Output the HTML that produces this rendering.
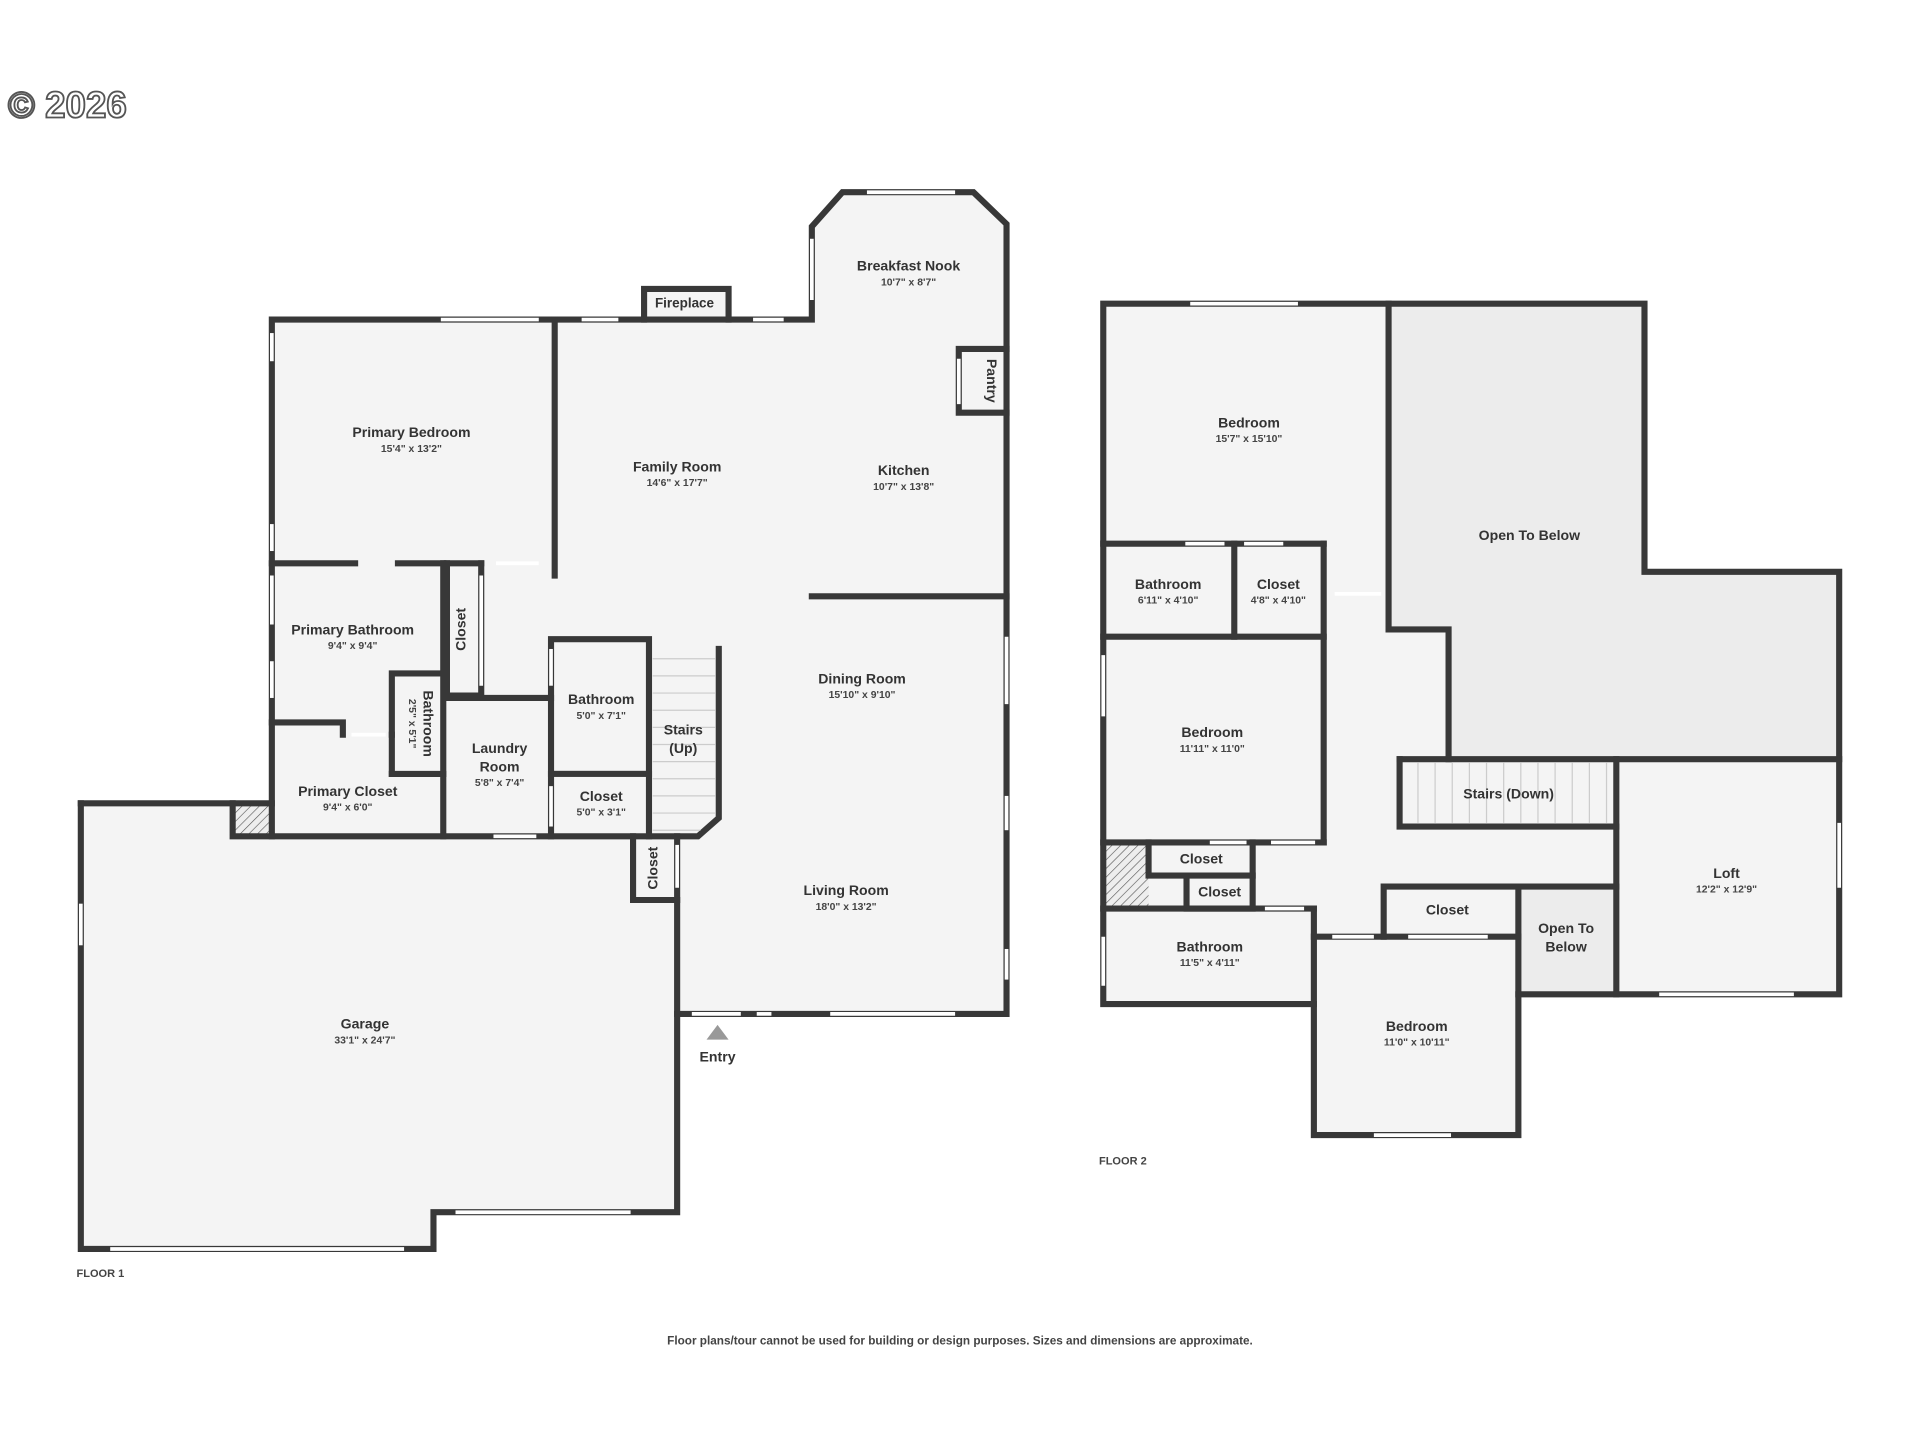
<!DOCTYPE html>
<html><head><meta charset="utf-8"><style>
html,body{margin:0;padding:0;background:#fff;}
svg{display:block}
text{font-family:"Liberation Sans",sans-serif;fill:#333;text-anchor:middle}
.n{font-size:11.5px;font-weight:bold}
.d{font-size:8.5px;font-weight:bold;fill:#444}
.w{stroke:#383838;stroke-width:5;fill:none;stroke-linecap:square}
.win{stroke:#fff;stroke-width:3}
.st{stroke:#ccc;stroke-width:1}
</style></head><body>
<svg width="1920" height="1440" viewBox="0 0 1568 1176" xmlns="http://www.w3.org/2000/svg">
<defs><pattern id="h" width="5" height="5" patternUnits="userSpaceOnUse" patternTransform="rotate(45)"><rect width="5" height="5" fill="#eee"/><line x1="0" y1="0" x2="0" y2="5" stroke="#555" stroke-width="1"/></pattern></defs>
<text x="55" y="96" style="font-size:30px;font-weight:bold;fill:#fff;stroke:#555;stroke-width:1.5">© 2026</text>

<!-- FLOOR 1 -->
<polygon points="66,656 222,656 222,261 663,261 663,185 688,157 795,157 822,183 822,828 553,828 553,990 354,990 354,1020 66,1020" fill="#f4f4f4"/>
<rect x="526" y="236" width="69" height="25" fill="#f4f4f4"/>
<rect x="190" y="656" width="32" height="27" fill="url(#h)"/>
<g class="w">
<polyline points="66,656 190,656 190,683 570,683 587,668 587,530"/>
<polyline points="66,656 66,1020 354,1020 354,990 553,990 553,683"/>
<polyline points="553,828 822,828 822,183 795,157 688,157 663,185 663,261 222,261 222,683"/>
<line x1="190" y1="656" x2="222" y2="656"/>
<polyline points="526,261 526,236 595,236 595,261"/>
<line x1="453" y1="261" x2="453" y2="470"/>
<line x1="222" y1="460" x2="290" y2="460"/><line x1="325" y1="460" x2="393" y2="460"/>
<line x1="362" y1="460" x2="362" y2="683"/>
<polyline points="365,460 365,568 393,568 393,460"/>
<line x1="365" y1="570" x2="450" y2="570"/>
<polyline points="222,590 280,590 280,600"/>
<polyline points="320,600 320,550 362,550"/><line x1="320" y1="632" x2="362" y2="632"/><line x1="320" y1="600" x2="320" y2="632"/>
<rect x="450" y="522" width="80" height="110"/><line x1="450" y1="632" x2="450" y2="683"/><line x1="530" y1="632" x2="530" y2="683"/>
<polyline points="517,683 517,735 553,735"/>
<line x1="663" y1="487" x2="822" y2="487"/>
<polyline points="822,285 783,285 783,337 822,337"/>
</g>
<g class="st"><line x1="533" y1="538" x2="584" y2="538"/><line x1="533" y1="552" x2="584" y2="552"/><line x1="533" y1="566" x2="584" y2="566"/><line x1="533" y1="580" x2="584" y2="580"/><line x1="533" y1="594" x2="584" y2="594"/><line x1="533" y1="608" x2="584" y2="608"/><line x1="533" y1="622" x2="584" y2="622"/><line x1="533" y1="636" x2="584" y2="636"/><line x1="533" y1="650" x2="584" y2="650"/><line x1="533" y1="664" x2="584" y2="664"/><line x1="533" y1="678" x2="572" y2="678"/></g>
<g class="win">
<line x1="360" y1="261" x2="440" y2="261"/><line x1="475" y1="261" x2="505" y2="261"/><line x1="615" y1="261" x2="640" y2="261"/>
<line x1="708" y1="157" x2="780" y2="157"/><line x1="663" y1="195" x2="663" y2="245"/>
<line x1="222" y1="272" x2="222" y2="295"/><line x1="222" y1="428" x2="222" y2="450"/><line x1="222" y1="470" x2="222" y2="510"/><line x1="222" y1="540" x2="222" y2="570"/>
<line x1="822" y1="520" x2="822" y2="575"/><line x1="822" y1="650" x2="822" y2="678"/><line x1="822" y1="775" x2="822" y2="800"/>
<line x1="565" y1="828" x2="605" y2="828"/><line x1="618" y1="828" x2="630" y2="828"/><line x1="678" y1="828" x2="780" y2="828"/>
<line x1="66" y1="738" x2="66" y2="772"/><line x1="90" y1="1020" x2="330" y2="1020"/><line x1="372" y1="990" x2="515" y2="990"/>
<line x1="403" y1="683" x2="438" y2="683"/><line x1="405" y1="460" x2="440" y2="460"/><line x1="287" y1="600" x2="315" y2="600"/>
<line x1="393" y1="470" x2="393" y2="560"/><line x1="450" y1="530" x2="450" y2="560"/><line x1="450" y1="642" x2="450" y2="675"/><line x1="553" y1="690" x2="553" y2="725"/>
<line x1="783" y1="293" x2="783" y2="330"/>
</g>
<polygon points="577,849 586,837 595,849" fill="#999"/>
<text class="n" x="559" y="251" style="font-size:11px">Fireplace</text>
<text class="n" x="742" y="221">Breakfast Nook</text><text class="d" x="742" y="233">10'7" x 8'7"</text>
<text class="n" x="806" y="311" transform="rotate(90 806 311)">Pantry</text>
<text class="n" x="336" y="357">Primary Bedroom</text><text class="d" x="336" y="369">15'4" x 13'2"</text>
<text class="n" x="553" y="385">Family Room</text><text class="d" x="553" y="397">14'6" x 17'7"</text>
<text class="n" x="738" y="388">Kitchen</text><text class="d" x="738" y="400">10'7" x 13'8"</text>
<text class="n" x="288" y="518">Primary Bathroom</text><text class="d" x="288" y="530">9'4" x 9'4"</text>
<text class="n" x="380" y="514" transform="rotate(-90 380 514)">Closet</text>
<text class="n" x="346" y="591" transform="rotate(90 346 591)">Bathroom</text><text class="d" x="334" y="591" transform="rotate(90 334 591)">2'5" x 5'1"</text>
<text class="n" x="491" y="575">Bathroom</text><text class="d" x="491" y="587">5'0" x 7'1"</text>
<text class="n" x="558" y="600">Stairs</text><text class="n" x="558" y="615">(Up)</text>
<text class="n" x="704" y="558">Dining Room</text><text class="d" x="704" y="570">15'10" x 9'10"</text>
<text class="n" x="408" y="615">Laundry</text><text class="n" x="408" y="630">Room</text><text class="d" x="408" y="642">5'8" x 7'4"</text>
<text class="n" x="284" y="650">Primary Closet</text><text class="d" x="284" y="662">9'4" x 6'0"</text>
<text class="n" x="491" y="654">Closet</text><text class="d" x="491" y="666">5'0" x 3'1"</text>
<text class="n" x="537" y="709" transform="rotate(-90 537 709)">Closet</text>
<text class="n" x="691" y="731">Living Room</text><text class="d" x="691" y="743">18'0" x 13'2"</text>
<text class="n" x="298" y="840">Garage</text><text class="d" x="298" y="852">33'1" x 24'7"</text>
<text class="n" x="586" y="867">Entry</text>
<text class="d" x="82" y="1043" style="font-size:9px">FLOOR 1</text>

<!-- FLOOR 2 -->
<polygon points="901,248 1343,248 1343,467 1502,467 1502,812 1240,812 1240,927 1073,927 1073,820 901,820" fill="#f4f4f4"/>
<polygon points="1134,248 1343,248 1343,467 1502,467 1502,620 1183,620 1183,514 1134,514" fill="#ececec"/>
<rect x="1240" y="724" width="80" height="88" fill="#ececec"/>
<rect x="903" y="688" width="35" height="54" fill="url(#h)"/>
<g class="w">
<polygon points="901,248 1343,248 1343,467 1502,467 1502,812 1240,812 1240,927 1073,927 1073,820 901,820"/>
<polyline points="1134,248 1134,514 1183,514 1183,620"/>
<line x1="1143" y1="620" x2="1502" y2="620"/>
<polyline points="1143,620 1143,675 1320,675"/><line x1="1320" y1="620" x2="1320" y2="812"/>
<line x1="901" y1="444" x2="1081" y2="444"/><line x1="1008" y1="444" x2="1008" y2="520"/>
<line x1="901" y1="520" x2="1081" y2="520"/><line x1="1081" y1="444" x2="1081" y2="688"/>
<line x1="901" y1="688" x2="1081" y2="688"/>
<polyline points="938,688 938,715 1023,715 1023,688"/><polyline points="969,715 969,742 1023,742 1023,715"/>
<line x1="901" y1="742" x2="1073" y2="742"/><line x1="1073" y1="742" x2="1073" y2="820"/>
<polyline points="1130,765 1130,724 1320,724"/><line x1="1073" y1="765" x2="1240" y2="765"/><line x1="1240" y1="724" x2="1240" y2="812"/>
</g>
<g class="st"><line x1="1158" y1="623" x2="1158" y2="672"/><line x1="1172" y1="623" x2="1172" y2="672"/><line x1="1186" y1="623" x2="1186" y2="672"/><line x1="1200" y1="623" x2="1200" y2="672"/><line x1="1214" y1="623" x2="1214" y2="672"/><line x1="1228" y1="623" x2="1228" y2="672"/><line x1="1242" y1="623" x2="1242" y2="672"/><line x1="1256" y1="623" x2="1256" y2="672"/><line x1="1270" y1="623" x2="1270" y2="672"/><line x1="1284" y1="623" x2="1284" y2="672"/><line x1="1298" y1="623" x2="1298" y2="672"/><line x1="1312" y1="623" x2="1312" y2="672"/></g>
<g class="win">
<line x1="972" y1="248" x2="1060" y2="248"/><line x1="968" y1="444" x2="1000" y2="444"/><line x1="1016" y1="444" x2="1048" y2="444"/>
<line x1="1090" y1="485" x2="1128" y2="485"/><line x1="901" y1="535" x2="901" y2="585"/>
<line x1="988" y1="688" x2="1018" y2="688"/><line x1="1038" y1="688" x2="1074" y2="688"/><line x1="1033" y1="742" x2="1065" y2="742"/>
<line x1="901" y1="765" x2="901" y2="805"/><line x1="1088" y1="765" x2="1122" y2="765"/><line x1="1150" y1="765" x2="1215" y2="765"/>
<line x1="1122" y1="927" x2="1185" y2="927"/><line x1="1355" y1="812" x2="1465" y2="812"/><line x1="1502" y1="672" x2="1502" y2="725"/>
</g>
<text class="n" x="1020" y="349">Bedroom</text><text class="d" x="1020" y="361">15'7" x 15'10"</text>
<text class="n" x="1249" y="441">Open To Below</text>
<text class="n" x="954" y="481">Bathroom</text><text class="d" x="954" y="493">6'11" x 4'10"</text>
<text class="n" x="1044" y="481">Closet</text><text class="d" x="1044" y="493">4'8" x 4'10"</text>
<text class="n" x="990" y="602">Bedroom</text><text class="d" x="990" y="614">11'11" x 11'0"</text>
<text class="n" x="1232" y="652">Stairs (Down)</text>
<text class="n" x="981" y="705">Closet</text><text class="n" x="996" y="732">Closet</text>
<text class="n" x="1410" y="717">Loft</text><text class="d" x="1410" y="729">12'2" x 12'9"</text>
<text class="n" x="1182" y="747">Closet</text>
<text class="n" x="1279" y="762">Open To</text><text class="n" x="1279" y="777">Below</text>
<text class="n" x="988" y="777">Bathroom</text><text class="d" x="988" y="789">11'5" x 4'11"</text>
<text class="n" x="1157" y="842">Bedroom</text><text class="d" x="1157" y="854">11'0" x 10'11"</text>
<text class="d" x="917" y="951" style="font-size:9px">FLOOR 2</text>
<text class="d" x="784" y="1098" style="font-size:9.6px">Floor plans/tour cannot be used for building or design purposes. Sizes and dimensions are approximate.</text>
</svg>
</body></html>
